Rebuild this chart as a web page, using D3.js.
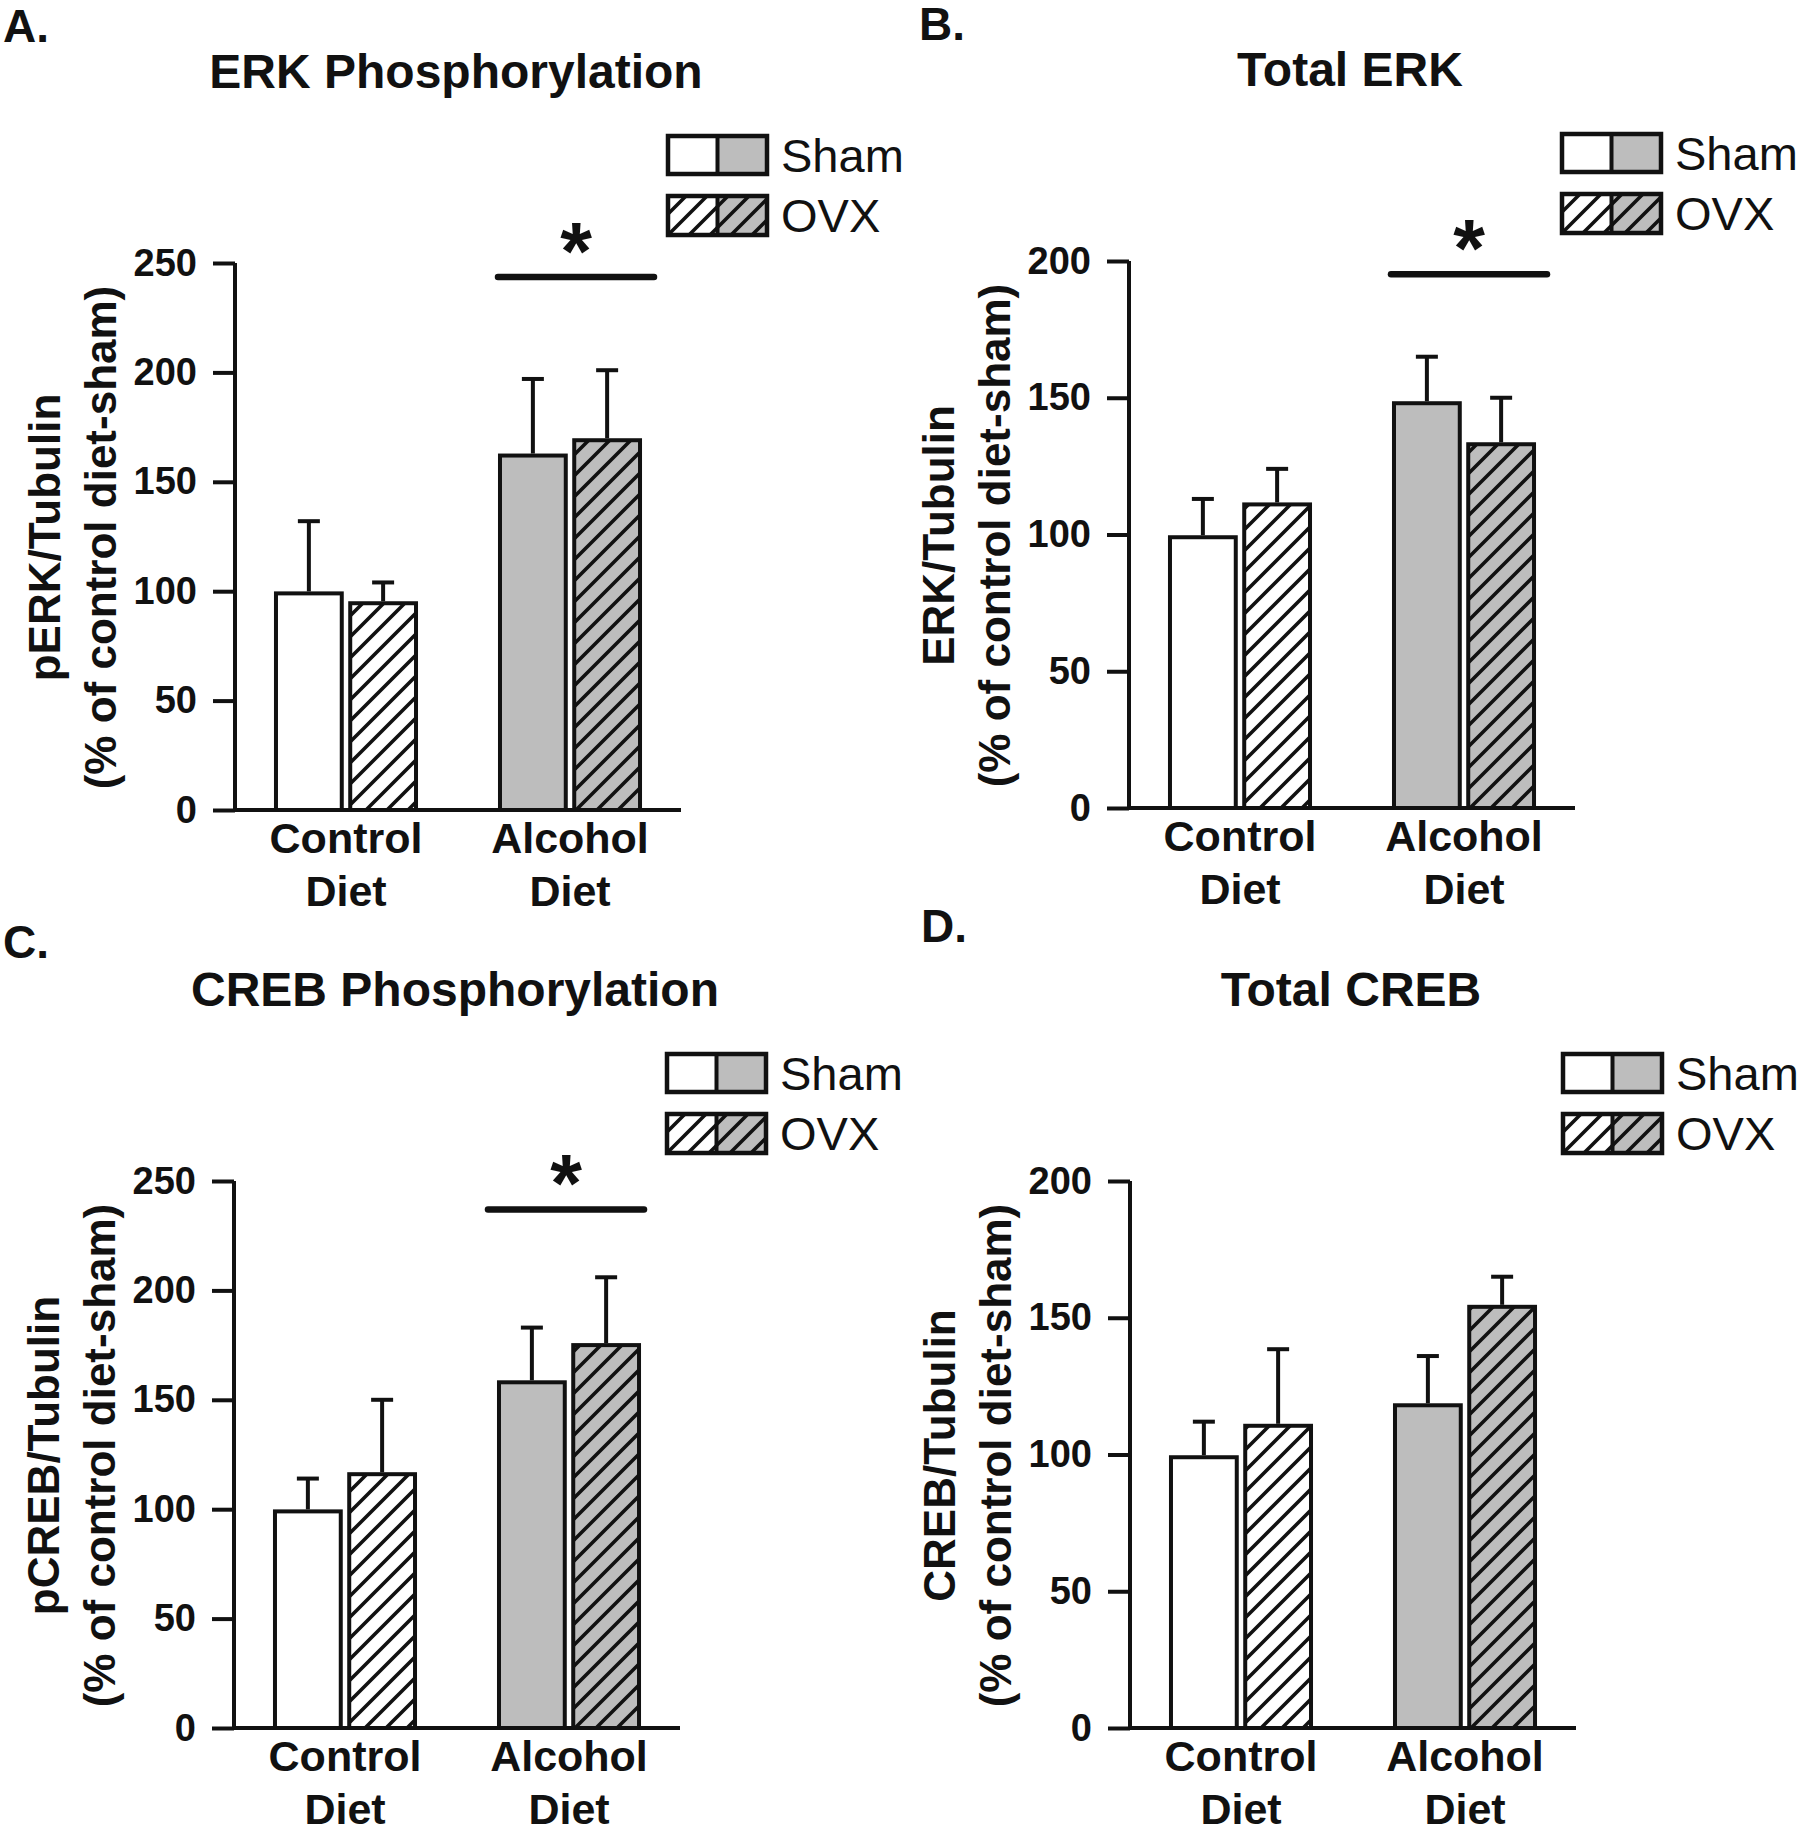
<!DOCTYPE html>
<html>
<head>
<meta charset="utf-8">
<script src="https://cdn.jsdelivr.net/npm/d3@7"></script>
<style>
  html, body { margin: 0; padding: 0; background: #fff; }
  svg { display: block; }
  text { font-family: "Liberation Sans", Arial, Helvetica, sans-serif; fill: #111; }
</style>
</head>
<body>
<svg id="chart" width="1800" height="1828"></svg>
<script>
// ---------------- DATA ----------------
const groups = ["Control", "Alcohol"];
const groupLines = [["Control", "Diet"], ["Alcohol", "Diet"]];
const treatments = ["Sham", "OVX"];
const panelLetters = ["A.", "B.", "C.", "D."];
const panelTitles = ["ERK Phosphorylation", "Total ERK", "CREB Phosphorylation", "Total CREB"];
const yLabelLine1 = ["pERK/Tubulin", "ERK/Tubulin", "pCREB/Tubulin", "CREB/Tubulin"];
const yLabelLine2 = "(% of control diet-sham)";
const yMax = [250, 200, 250, 200];
const ticksA = [0, 50, 100, 150, 200, 250];
const ticksB = [0, 50, 100, 150, 200];
const tickSets = [ticksA, ticksB, ticksA, ticksB];
// order: Control-Sham, Control-OVX, Alcohol-Sham, Alcohol-OVX
const pErkMean = [99, 94.5, 162, 169];
const pErkSem = [33, 9.5, 35, 32];
const totErkMean = [99, 111, 148, 133];
const totErkSem = [14, 13, 17, 17];
const pCrebMean = [99, 116, 158, 175];
const pCrebSem = [15, 34, 25, 31];
const totCrebMean = [99, 110.5, 118, 154];
const totCrebSem = [13, 28, 18, 11];
const means = [pErkMean, totErkMean, pCrebMean, totCrebMean];
const sems = [pErkSem, totErkSem, pCrebSem, totCrebSem];
// significance marker (value level of the bar); null = none
const sigLevel = [243.6, 195.2, 237, null];
const sigLabel = "*";

// ---------------- LAYOUT ----------------
const panelOffsets = [[0, 0], [894, -2], [-1, 918], [895, 918]];
const letterPos = [[3, 42], [919, 40], [3, 958], [921, 942]];
const sigExtent = [[495, 657], [494, 656], [486, 648], null];
const axisX = 235, axisRight = 681, axisTop = 263, axisBottom = 810;
const GRAY = "#bdbdbd";
const INK = "#111";
const FONT = '"Liberation Sans", Arial, Helvetica, sans-serif';

// measure asterisk glyph so it can be placed by its visible centre
const ctx = document.createElement("canvas").getContext("2d");
ctx.font = `bold 100px ${FONT}`;
const am = ctx.measureText(sigLabel);
const aAsc = am.actualBoundingBoxAscent, aDesc = am.actualBoundingBoxDescent;
const aH100 = (aAsc + aDesc) || 30;
const starSize = 100 * 31 / aH100;
const starOffset = ((aAsc - aDesc) / 2) * starSize / 100; // baseline below centre

const svg = d3.select("#chart");
const defs = svg.append("defs");
function hatch(id, bg) {
  const s = 21;
  const p = defs.append("pattern").attr("id", id)
    .attr("patternUnits", "userSpaceOnUse").attr("width", s).attr("height", s);
  p.append("rect").attr("width", s).attr("height", s).attr("fill", bg);
  p.append("path")
    .attr("d", `M0,${s} L${s},0 M-4,4 L4,-4 M${s-4},${s+4} L${s+4},${s-4}`)
    .attr("stroke", INK).attr("stroke-width", 3.6).attr("fill", "none");
}
hatch("hatchWhite", "#fff");
hatch("hatchGray", GRAY);
function fillFor(gi, ti) {
  if (ti === 0) return gi === 0 ? "#fff" : GRAY;
  return gi === 0 ? "url(#hatchWhite)" : "url(#hatchGray)";
}

// panel letters
panelLetters.forEach((L, i) => {
  svg.append("text").attr("x", letterPos[i][0]).attr("y", letterPos[i][1])
    .attr("font-size", 46).attr("font-weight", "bold").text(L);
});

const x0 = d3.scaleBand().domain(groups).range([axisX, axisRight])
  .paddingInner(0.357).paddingOuter(0.174);
const x1 = d3.scaleBand().domain(treatments).range([0, x0.bandwidth()])
  .paddingInner(0.06).paddingOuter(0);

for (let p = 0; p < 4; p++) {
  const [dx, dy] = panelOffsets[p];
  const g = svg.append("g").attr("transform", `translate(${dx},${dy})`);
  const y = d3.scaleLinear().domain([0, yMax[p]]).range([axisBottom, axisTop]);

  // title
  g.append("text").attr("x", (axisX + axisRight) / 2 - 2).attr("y", 88)
    .attr("text-anchor", "middle").attr("font-size", 48).attr("font-weight", "bold")
    .text(panelTitles[p]);

  // bars
  const rows = [];
  groups.forEach((gr, gi) => treatments.forEach((t, ti) => {
    rows.push({gi, ti, gr, t, m: means[p][gi * 2 + ti], e: sems[p][gi * 2 + ti]});
  }));
  const bars = g.selectAll("g.bar").data(rows).enter().append("g").attr("class", "bar");
  bars.append("rect")
    .attr("x", d => x0(d.gr) + x1(d.t) + 2)
    .attr("width", x1.bandwidth() - 4)
    .attr("y", d => y(d.m))
    .attr("height", d => y(0) - y(d.m))
    .attr("fill", d => fillFor(d.gi, d.ti))
    .attr("stroke", INK).attr("stroke-width", 4);
  // error bars (upper)
  bars.append("line")
    .attr("x1", d => x0(d.gr) + x1(d.t) + x1.bandwidth() / 2)
    .attr("x2", d => x0(d.gr) + x1(d.t) + x1.bandwidth() / 2)
    .attr("y1", d => y(d.m) - 2).attr("y2", d => y(d.m + d.e))
    .attr("stroke", INK).attr("stroke-width", 4);
  bars.append("line")
    .attr("x1", d => x0(d.gr) + x1(d.t) + x1.bandwidth() / 2 - 11)
    .attr("x2", d => x0(d.gr) + x1(d.t) + x1.bandwidth() / 2 + 11)
    .attr("y1", d => y(d.m + d.e)).attr("y2", d => y(d.m + d.e))
    .attr("stroke", INK).attr("stroke-width", 4);

  // y axis
  const yAxis = d3.axisLeft(y).tickValues(tickSets[p]).tickSize(22).tickSizeOuter(0).tickPadding(16)
    .tickFormat(d3.format("d"));
  const ya = g.append("g").attr("transform", `translate(${axisX},0)`).call(yAxis);
  ya.select(".domain").attr("stroke", INK).attr("stroke-width", 4)
    .attr("d", `M0,${axisTop} V${axisBottom + 2}`);
  ya.selectAll(".tick line").attr("stroke", INK).attr("stroke-width", 4);
  ya.selectAll(".tick text").attr("font-size", 38).attr("font-weight", "bold")
    .attr("font-family", FONT).attr("fill", INK);

  // x axis line
  const xAxis = d3.axisBottom(x0).tickSize(0).tickFormat("");
  const xa = g.append("g").attr("transform", `translate(0,${axisBottom})`).call(xAxis);
  xa.select(".domain").attr("stroke", INK).attr("stroke-width", 4)
    .attr("d", `M${axisX - 2},0 H${axisRight}`);
  groups.forEach((gr, gi) => {
    const cx = x0(gr) + x0.bandwidth() / 2;
    groupLines[gi].forEach((ln, li) => {
      g.append("text").attr("x", cx).attr("y", axisBottom + 43 + li * 53)
        .attr("text-anchor", "middle").attr("font-size", 43).attr("font-weight", "bold")
        .text(ln);
    });
  });

  // y label
  const cy = (axisTop + axisBottom) / 2 + 1;
  g.append("text").attr("transform", `translate(60,${cy}) rotate(-90)`)
    .attr("text-anchor", "middle").attr("font-size", 44).attr("font-weight", "bold")
    .text(yLabelLine1[p]);
  g.append("text").attr("transform", `translate(116,${cy}) rotate(-90)`)
    .attr("text-anchor", "middle").attr("font-size", 44).attr("font-weight", "bold")
    .text(yLabelLine2);

  // legend
  const leg = g.append("g");
  [[0, 136, 38], [1, 196, 39]].forEach(([ti, ly, lh]) => {
    leg.append("rect").attr("x", 668).attr("y", ly).attr("width", 49.5).attr("height", lh)
      .attr("fill", fillFor(0, ti));
    leg.append("rect").attr("x", 717.5).attr("y", ly).attr("width", 49.5).attr("height", lh)
      .attr("fill", fillFor(1, ti));
    leg.append("rect").attr("x", 668).attr("y", ly).attr("width", 99).attr("height", lh)
      .attr("fill", "none").attr("stroke", INK).attr("stroke-width", 4.5);
    leg.append("line").attr("x1", 717.5).attr("x2", 717.5).attr("y1", ly).attr("y2", ly + lh)
      .attr("stroke", INK).attr("stroke-width", 4);
    leg.append("text").attr("x", 781).attr("y", ly + 36).attr("font-size", 47)
      .text(treatments[ti]);
  });

  // significance
  if (sigLevel[p] !== null) {
    const sy = y(sigLevel[p]);
    const [sx1, sx2] = sigExtent[p];
    g.append("line").attr("x1", sx1 + 3).attr("x2", sx2 - 3).attr("y1", sy).attr("y2", sy)
      .attr("stroke", INK).attr("stroke-width", 6.5).attr("stroke-linecap", "round");
    g.append("text").attr("x", (sx1 + sx2) / 2).attr("y", sy - 39 + starOffset)
      .attr("text-anchor", "middle").attr("font-size", starSize).attr("font-weight", "bold")
      .text(sigLabel);
  }
}
</script>
</body>
</html>
